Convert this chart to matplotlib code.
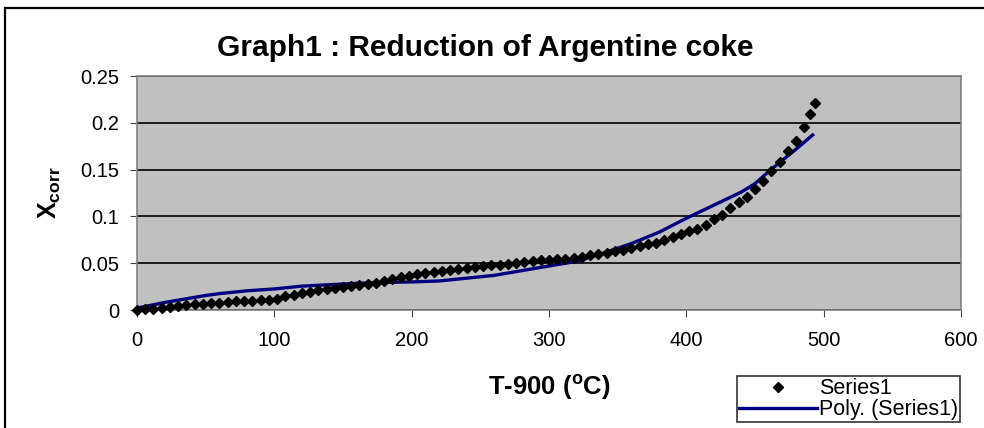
import numpy as np
import matplotlib
matplotlib.use("Agg")
import matplotlib.pyplot as plt
from matplotlib.patches import Rectangle

plt.rcParams['font.family'] = ['Liberation Sans', 'DejaVu Sans']
plt.rcParams['mathtext.fontset'] = 'custom'
plt.rcParams['mathtext.rm'] = 'Liberation Sans'
plt.rcParams['mathtext.bf'] = 'Liberation Sans:bold'

# Series1 (measured points)
x_pts = list(range(0, 487, 6)) + [490, 494]
y_pts = [0.000, 0.001, 0.0015, 0.002, 0.003, 0.004, 0.005, 0.006, 0.0065, 0.007,
         0.008, 0.009, 0.0093, 0.0097, 0.010, 0.0105, 0.011, 0.012, 0.0145, 0.016,
         0.018, 0.019, 0.021, 0.022, 0.023, 0.0245, 0.026, 0.027, 0.028, 0.029,
         0.031, 0.033, 0.035, 0.036, 0.038, 0.039, 0.041, 0.042, 0.043, 0.044,
         0.045, 0.046, 0.047, 0.048, 0.048, 0.049, 0.050, 0.051, 0.052, 0.053,
         0.053, 0.054, 0.055, 0.056, 0.057, 0.059, 0.060, 0.061, 0.063, 0.064,
         0.066, 0.068, 0.070, 0.072, 0.075, 0.078, 0.081, 0.084, 0.087, 0.091,
         0.097, 0.102, 0.109, 0.115, 0.121, 0.129, 0.138, 0.148, 0.158, 0.170,
         0.181, 0.195, 0.209, 0.221]

# Poly. (Series1) trendline
x_poly = [0, 10, 20, 30, 40, 50, 60, 70, 80, 90, 100, 120, 140, 160, 180, 200,
          220, 240, 260, 280, 300, 320, 340, 360, 380, 400, 420, 440, 450, 460,
          470, 480, 492]
y_poly = [0.002, 0.005, 0.008, 0.0105, 0.013, 0.0155, 0.0175, 0.019, 0.0205, 0.0215,
          0.0225, 0.0255, 0.027, 0.0285, 0.0295, 0.030, 0.031, 0.034, 0.037, 0.042,
          0.047, 0.052, 0.061, 0.071, 0.083, 0.098, 0.112, 0.126, 0.135, 0.148,
          0.160, 0.172, 0.187]

x_ticks = [0, 100, 200, 300, 400, 500, 600]
y_ticks = [0, 0.05, 0.1, 0.15, 0.2, 0.25]
y_ticklabels = ['0', '0.05', '0.1', '0.15', '0.2', '0.25']

fig = plt.figure(figsize=(9.84, 4.28), dpi=100)
# outer chart border (cropped on the right and bottom)
fig.patches.append(Rectangle((5/984, -0.5), 1.2, 1.5 - 8/428, transform=fig.transFigure,
                             fill=False, edgecolor='black', linewidth=1.6))

ax = fig.add_axes([137/984, 1 - 310/428, (961-137)/984, (310-76)/428])
ax.set_facecolor('#C0C0C0')
for s in ax.spines.values():
    s.set_color('#808080')
    s.set_linewidth(1.2)

ax.set_xlim(0, 600)
ax.set_ylim(0, 0.25)
ax.set_xticks(x_ticks)
ax.set_yticks(y_ticks)
ax.set_yticklabels(y_ticklabels)
ax.tick_params(direction='out', length=5, color='#404040', labelsize=14.5)
ax.tick_params(axis='x', pad=10)
ax.tick_params(axis='y', pad=8)
ax.yaxis.grid(True, color='black', linewidth=1.2)
ax.set_axisbelow(True)

ax.plot(x_pts, y_pts, linestyle='none', marker='D', markersize=5.5,
        color='black', label='Series1', clip_on=False, zorder=4)
ax.plot(x_poly, y_poly, color='#000080', linewidth=2.4, label='Poly. (Series1)', zorder=3)

fig.text(485/984, 1 - 48/428, 'Graph1 : Reduction of Argentine coke',
         fontsize=21.5, fontweight='bold', ha='center', va='center')
fig.text(549/984, 1 - 388/428, r'T-900 ($\mathbf{^{o}}$C)',
         fontsize=18.5, fontweight='bold', ha='center', va='center')
ax.set_ylabel(r'$\mathbf{X_{corr}}$', fontsize=18, labelpad=12)

leg = fig.legend(loc='upper left', bbox_to_anchor=(737/984, 1 - 376/428),
                 fontsize=15.5, frameon=True, fancybox=False, borderpad=0.1,
                 handlelength=3.6, handletextpad=0.1, labelspacing=0.0,
                 borderaxespad=0)
leg.get_frame().set_edgecolor('black')
leg.get_frame().set_linewidth(1.2)

fig.savefig('out.png', dpi=100)
